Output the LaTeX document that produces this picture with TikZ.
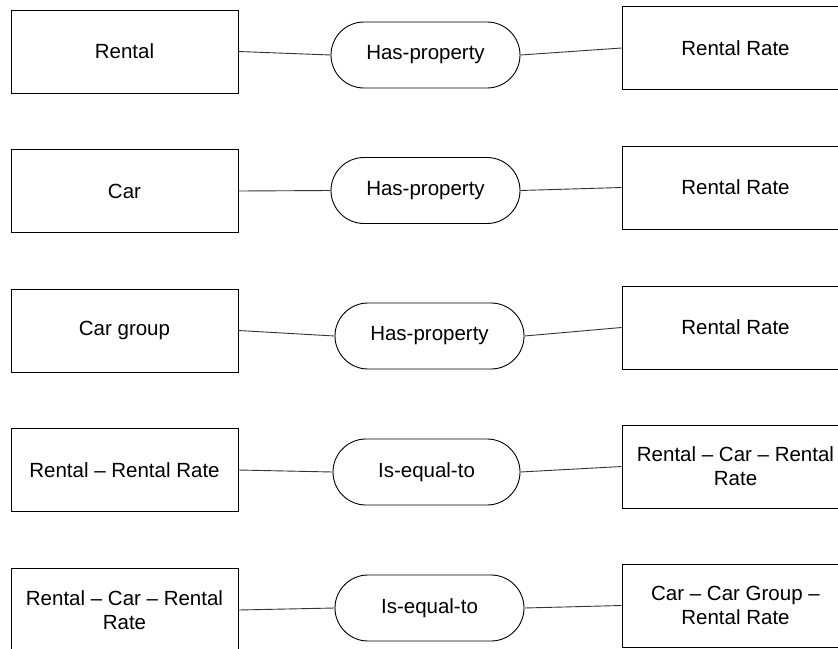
\documentclass[tikz,border=0pt]{standalone}
\usepackage{fontspec}
\setmainfont{Liberation Sans}
\begin{document}
\begin{tikzpicture}[x=1pt,y=-1pt,
  every node/.style={font=\fontsize{20.5}{24}\selectfont, align=center, inner sep=0pt},
  entity/.style={draw=black, line width=0.9pt, minimum width=227pt, minimum height=83pt},
  relation/.style={draw=black, line width=0.9pt, rounded corners=33pt, minimum width=189pt, minimum height=66pt},
  link/.style={draw=black!80, line width=0.9pt}]
\useasboundingbox (0,0) rectangle (838,648);

% row 1
\node[entity] (l1) at (124.5,51.5) {Rental};
\node[relation] (r1) at (425.5,55) {Has-property};
\node[entity] (p1) at (735.5,48) {Rental Rate};
% row 2
\node[entity] (l2) at (124.5,191) {Car};
\node[relation] (r2) at (425.5,190.5) {Has-property};
\node[entity] (p2) at (735.5,187.5) {Rental Rate};
% row 3
\node[entity] (l3) at (124.5,330.5) {Car group};
\node[relation] (r3) at (429.5,336) {Has-property};
\node[entity] (p3) at (735.5,327.5) {Rental Rate};
% row 4
\node[entity] (l4) at (124.5,470) {Rental -- Rental Rate};
\node[relation, minimum width=187pt] (r4) at (426.5,472) {Is-equal-to};
\node[entity] (p4) at (735.5,466.5) {Rental -- Car -- Rental\\Rate};
% row 5
\node[entity] (l5) at (124.5,610) {Rental -- Car -- Rental\\Rate};
\node[relation] (r5) at (429.5,608) {Is-equal-to};
\node[entity] (p5) at (735.5,605.5) {Car -- Car Group --\\Rental Rate};

\foreach \i in {1,...,5} {
  \draw[link] (l\i.east) -- (r\i.west);
  \draw[link] (r\i.east) -- (p\i.west);
}
\end{tikzpicture}
\end{document}
